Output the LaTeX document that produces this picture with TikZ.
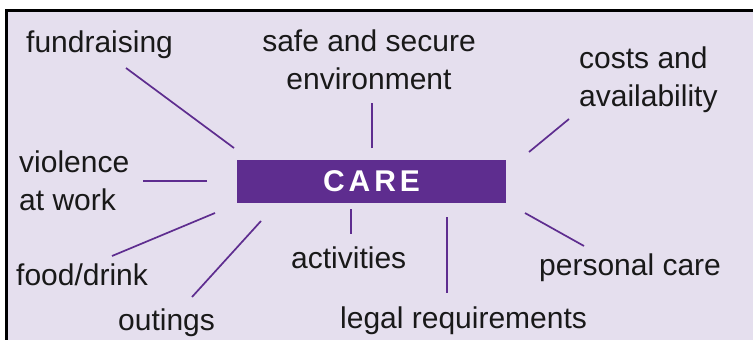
\documentclass[tikz,border=0pt]{standalone}
\usepackage{fontspec}
\setmainfont{Liberation Sans}
\definecolor{carepurple}{HTML}{5E2D8F}
\definecolor{careback}{HTML}{E5DFEE}

\begin{document}
\begin{tikzpicture}[x=1pt, y=-1pt,
        topic/.style={inner sep=0pt, font=\fontsize{30}{38}\selectfont, text=black!90},
        spoke/.style={draw=carepurple, line width=1.7pt}]
        \useasboundingbox (0,0) rectangle (753,340);
        \fill[white] (0,0) rectangle (753,340);
        \fill[careback] (6.5,10.5) rectangle (753,345);
        \draw[line width=3pt] (6.5,345) -- (6.5,10.5) -- (753,10.5);

        \node[fill=carepurple, minimum width=269pt, minimum height=43pt, inner sep=0pt, text=white, font=\fontsize{30}{36}\selectfont\bfseries] (care) at (371.5,181.5) {C\kern4pt A\kern4pt R\kern4pt E};

        \node[topic, anchor=base west] (fund) at (26,52) {fundraising};
        \node[topic, anchor=base, align=center] (safe) at (369,89) {safe and secure\\environment};
        \node[topic, anchor=base west, align=left] (costs) at (579,106) {costs and\\availability};
        \node[topic, anchor=base west, align=left] (viol) at (19,210) {violence\\at work};
        \node[topic, anchor=base west] (food) at (16,285) {food/drink};
        \node[topic, anchor=base west] (out) at (118,330) {outings};
        \node[topic, anchor=base west] (act) at (291,268) {activities};
        \node[topic, anchor=base west] (legal) at (340,328) {legal requirements};
        \node[topic, anchor=base west] (pers) at (539,275) {personal care};

        \coordinate (fund-a) at (234,148);  \coordinate (fund-b) at (126,68);
        \coordinate (safe-a) at (372,148);  \coordinate (safe-b) at (372,103);
        \coordinate (costs-a) at (529,152); \coordinate (costs-b) at (569,119);
        \coordinate (viol-a) at (207,181);  \coordinate (viol-b) at (143,181);
        \coordinate (food-a) at (215,213);  \coordinate (food-b) at (112,256);
        \coordinate (out-a) at (261,221);   \coordinate (out-b) at (192,297);
        \coordinate (act-a) at (351,209);   \coordinate (act-b) at (351,234);
        \coordinate (legal-a) at (447,217); \coordinate (legal-b) at (447,293);
        \coordinate (pers-a) at (525,213);  \coordinate (pers-b) at (584,246);

        \foreach \n in {fund,safe,costs,viol,food,out,act,legal,pers}
            \draw[spoke] (\n-a) -- (\n-b);
    \end{tikzpicture}
\end{document}
